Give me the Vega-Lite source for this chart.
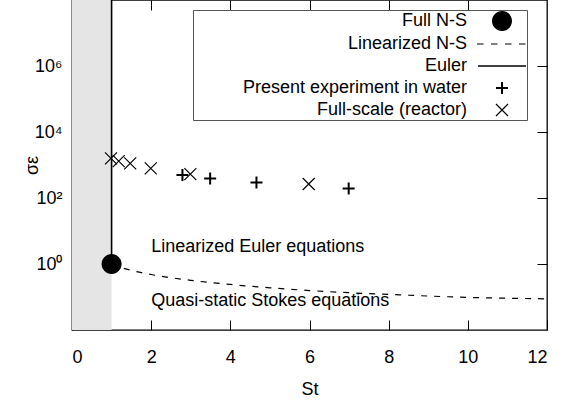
{
  "$schema": "https://vega.github.io/schema/vega-lite/v6.json",
  "width": 475,
  "height": 330,
  "autosize": "none",
  "padding": {"left": 72, "top": 0, "right": 21, "bottom": 75},
  "background": "white",
  "config": {
    "view": {"stroke": "black", "strokeWidth": 1.3},
    "font": "Liberation Sans",
    "axis": {
      "grid": false,
      "domain": false,
      "tickColor": "black",
      "tickWidth": 1,
      "labelColor": "black",
      "labelFont": "Liberation Sans",
      "labelFontSize": 18,
      "titleFont": "Liberation Sans",
      "titleFontSize": 18,
      "titleFontWeight": "normal",
      "titleColor": "black"
    }
  },
  "datasets": {
    "band": [{"St": 0, "St2": 1, "s": 0.01, "s2": 100000000}],
    "euler": [{"St": 1, "s": 1}, {"St": 1, "s": 100000000}],
    "linns": [
      {"St": 1, "s": 1}, {"St": 1.25, "s": 0.78}, {"St": 1.5, "s": 0.64}, {"St": 2, "s": 0.48},
      {"St": 3, "s": 0.32}, {"St": 4, "s": 0.24}, {"St": 5, "s": 0.19}, {"St": 6, "s": 0.157},
      {"St": 7, "s": 0.135}, {"St": 8, "s": 0.12}, {"St": 9, "s": 0.107}, {"St": 10, "s": 0.097},
      {"St": 11, "s": 0.092}, {"St": 12, "s": 0.088}
    ],
    "pts": [
      {"St": 1, "s": 1, "series": "Full N-S"},
      {"St": 2.79, "s": 495, "series": "Present experiment in water"},
      {"St": 3.49, "s": 392, "series": "Present experiment in water"},
      {"St": 4.66, "s": 297, "series": "Present experiment in water"},
      {"St": 6.99, "s": 195, "series": "Present experiment in water"},
      {"St": 0.985, "s": 1580, "series": "Full-scale (reactor)"},
      {"St": 1.18, "s": 1310, "series": "Full-scale (reactor)"},
      {"St": 1.47, "s": 1120, "series": "Full-scale (reactor)"},
      {"St": 1.99, "s": 790, "series": "Full-scale (reactor)"},
      {"St": 2.99, "s": 530, "series": "Full-scale (reactor)"},
      {"St": 5.98, "s": 265, "series": "Full-scale (reactor)"}
    ],
    "notes": [
      {"St": 2.0, "s": 2.24, "label": "Linearized Euler equations"},
      {"St": 2.0, "s": 0.0533, "label": "Quasi-static Stokes equations"}
    ]
  },
  "layer": [
    {
      "data": {"name": "band"},
      "mark": {"type": "rect", "fill": "#e5e5e5", "stroke": null},
      "encoding": {
        "x": {"field": "St", "type": "quantitative", "scale": {"domain": [0, 12], "nice": false, "zero": false},
          "axis": {"orient": "bottom", "values": [0, 2, 4, 6, 8, 10, 12], "tickSize": -10, "labelPadding": 28, "title": "St", "titlePadding": 14}},
        "x2": {"field": "St2"},
        "y": {"field": "s", "type": "quantitative", "scale": {"type": "log", "domain": [0.01, 100000000], "nice": false},
          "axis": {"orient": "left", "values": [1, 100, 10000, 1000000], "tickSize": -10, "labelPadding": 20,
            "labelExpr": "datum.value == 1 ? '10⁰' : datum.value == 100 ? '10²' : datum.value == 10000 ? '10⁴' : '10⁶'",
            "title": "σε", "titleX": -35, "titleY": 165, "titleBaseline": "alphabetic", "titleAngle": 270, "titleAlign": "center"}},
        "y2": {"field": "s2"}
      }
    },
    {
      "data": {"name": "euler"},
      "mark": {"type": "line", "color": "black", "strokeWidth": 1.6},
      "encoding": {
        "x": {"field": "St", "type": "quantitative", "axis": null},
        "y": {"field": "s", "type": "quantitative", "axis": null}
      }
    },
    {
      "data": {"name": "linns"},
      "mark": {"type": "line", "color": "black", "strokeWidth": 1.2, "strokeDash": [6, 7], "interpolate": "monotone"},
      "encoding": {
        "x": {"field": "St", "type": "quantitative", "axis": null},
        "y": {"field": "s", "type": "quantitative", "axis": null}
      }
    },
    {
      "data": {"name": "pts"},
      "mark": {"type": "point", "filled": false, "fill": "black", "stroke": "black", "strokeWidth": 0, "size": 400, "opacity": 1, "fillOpacity": 1},
      "encoding": {
        "x": {"field": "St", "type": "quantitative",
          "axis": {"orient": "top", "values": [2, 4, 6, 8, 10], "tickSize": -10, "labels": false, "title": null}},
        "y": {"field": "s", "type": "quantitative",
          "axis": {"orient": "right", "values": [1, 100, 10000, 1000000], "tickSize": -10, "labels": false, "title": null}},
        "shape": {
          "field": "series", "type": "nominal",
          "scale": {
            "domain": ["Full N-S", "Linearized N-S", "Euler", "Present experiment in water", "Full-scale (reactor)"],
            "range": [
              "M-1,0A1,1,0,1,1,1,0A1,1,0,1,1,-1,0Z",
              "M-2.5,-0.06H-1.85V0.06H-2.5ZM-1.1,-0.06H-0.45V0.06H-1.1ZM0.3,-0.06H0.95V0.06H0.3ZM1.7,-0.06H2.35V0.06H1.7Z",
              "M-2.4,-0.075H2.4V0.075H-2.4Z",
              "M-0.6,-0.1H0.6V0.1H-0.6ZM-0.1,-0.6H0.1V0.6H-0.1Z",
              "M-0.558,-0.642L0.642,0.558L0.558,0.642L-0.642,-0.558ZM-0.558,0.642L-0.642,0.558L0.558,-0.642L0.642,-0.558Z"
            ]
          },
          "legend": {
            "orient": "none", "legendX": 121, "legendY": 10,
            "title": null,
            "fillColor": "white", "strokeColor": "#555555", "padding": 1,
            "symbolSize": 400, "symbolStrokeWidth": 0, "symbolFillColor": "black",
            "symbolOffset": 298, "labelOffset": -45, "labelAlign": "right",
            "labelFont": "Liberation Sans", "labelFontSize": 18, "labelColor": "black", "labelLimit": 400,
            "rowPadding": 3
          }
        }
      }
    },
    {
      "data": {"name": "notes"},
      "mark": {"type": "text", "align": "left", "baseline": "alphabetic", "fontSize": 18, "font": "Liberation Sans", "color": "black"},
      "encoding": {
        "x": {"field": "St", "type": "quantitative", "axis": null},
        "y": {"field": "s", "type": "quantitative", "axis": null},
        "text": {"field": "label"}
      }
    }
  ],
  "resolve": {"axis": {"x": "independent", "y": "independent"}}
}
